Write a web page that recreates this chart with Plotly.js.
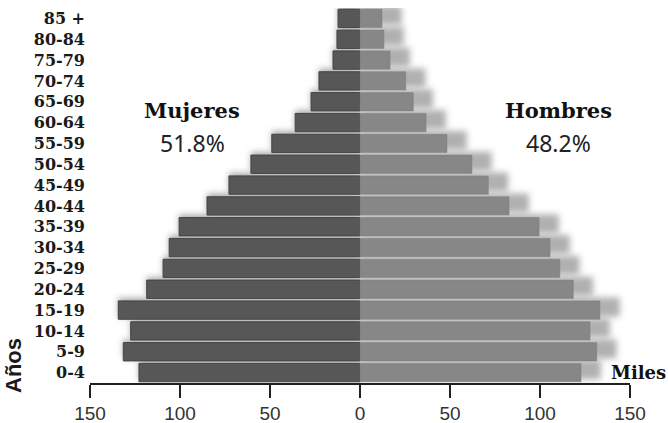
<!DOCTYPE html>
<html>
<head>
<meta charset="utf-8">
<script src="https://cdn.plot.ly/plotly-3.0.1.min.js"></script>
<style>
html,body{margin:0;padding:0;background:#fff;}
#chart{width:668px;height:423px;}
.barlayer .trace:nth-child(1) path,.barlayer .trace:nth-child(2) path{filter:blur(3px);}
</style>
</head>
<body>
<div id="chart"></div>
<script>
const ageGroups = ['0-4','5-9','10-14','15-19','20-24','25-29','30-34','35-39','40-44','45-49','50-54','55-59','60-64','65-69','70-74','75-79','80-84','85 +'];
const mujeres = [122.8,131.5,127.4,134.3,118.5,109.4,106,100.5,85,72.8,60.6,49,36,27.2,22.8,15,12.8,12.2];
const hombres = [122.8,131.5,127.8,133.3,118.5,111,105.6,99.5,82.8,71.3,62.2,48.3,36.7,29.6,25.4,16.7,13.3,12.2];
const xTickVals = [-150,-100,-50,0,50,100,150];
const xTickText = ['150','100','50','0','50','100','150'];

const W = 0.92;
const shadowExtra = 11;

const traces = [
  {type:'bar', orientation:'h', y:ageGroups, x:hombres.map(v=>v+shadowExtra), width:W, offset:-W/2+0.14,
   marker:{color:'#b0b0b0', line:{width:0}}, hoverinfo:'skip', showlegend:false},
  {type:'bar', orientation:'h', y:ageGroups, x:mujeres.map(v=>-v), width:W, offset:-W/2+0.12,
   marker:{color:'#a8a8a8', line:{width:0}}, hoverinfo:'skip', showlegend:false},
  {type:'bar', orientation:'h', y:ageGroups, x:mujeres.map(v=>-v), width:0.88, name:'Mujeres',
   marker:{color:'#575757', line:{color:'#444', width:1}}, showlegend:false},
  {type:'bar', orientation:'h', y:ageGroups, x:hombres, width:0.88, name:'Hombres',
   marker:{color:'#878787', line:{color:'#7c7c7c', width:0.5}}, showlegend:false}
];

const layout = {
  width:668, height:423,
  margin:{l:90, r:38, t:8, b:40},
  paper_bgcolor:'#fff', plot_bgcolor:'#fff',
  barmode:'overlay',
  xaxis:{range:[-150,150], tickvals:xTickVals, ticktext:xTickText, showgrid:false, zeroline:false, automargin:false,
    showline:true, linecolor:'#222', linewidth:1.5, ticks:'outside', ticklen:13, tickwidth:1.5, tickcolor:'#222',
    tickfont:{family:'Liberation Sans, Arial, sans-serif', size:19, color:'#333'}, fixedrange:true},
  yaxis:{type:'category', categoryorder:'array', categoryarray:ageGroups, showgrid:false, zeroline:false, automargin:false,
    showline:false, ticks:'', range:[-0.5,17.5], ticklabelstandoff:4,
    tickfont:{family:'DejaVu Serif, serif', size:16, color:'#1a1a1a', weight:'bold'}, fixedrange:true},
  annotations:[
    {text:'Mujeres', xref:'paper', yref:'paper', x:(192-90)/540, y:(383-110)/375, xanchor:'center', yanchor:'middle', showarrow:false,
     font:{family:'DejaVu Serif, serif', size:21, color:'#111', weight:'bold'}},
    {text:'51.8%', xref:'paper', yref:'paper', x:(192-90)/540, y:(383-143)/375, xanchor:'center', yanchor:'middle', showarrow:false,
     font:{family:'Noto Sans, sans-serif', size:23, color:'#222'}},
    {text:'Hombres', xref:'paper', yref:'paper', x:(558-90)/540, y:(383-110)/375, xanchor:'center', yanchor:'middle', showarrow:false,
     font:{family:'DejaVu Serif, serif', size:21, color:'#111', weight:'bold'}},
    {text:'48.2%', xref:'paper', yref:'paper', x:(558-90)/540, y:(383-143)/375, xanchor:'center', yanchor:'middle', showarrow:false,
     font:{family:'Noto Sans, sans-serif', size:23, color:'#222'}},
    {text:'Miles', xref:'paper', yref:'paper', x:(668-90)/540, y:(383-372)/375, xanchor:'right', yanchor:'middle', showarrow:false,
     font:{family:'DejaVu Serif, serif', size:18, color:'#111', weight:'bold'}},
    {text:'Años', xref:'paper', yref:'paper', x:(13-90)/540, y:(383-366)/375, xanchor:'center', yanchor:'middle', textangle:-90, showarrow:false,
     font:{family:'Liberation Sans, Arial, sans-serif', size:22, color:'#1a1a1a', weight:'bold'}}
  ]
};

Plotly.newPlot('chart', traces, layout, {displayModeBar:false, staticPlot:true});
</script>
</body>
</html>
